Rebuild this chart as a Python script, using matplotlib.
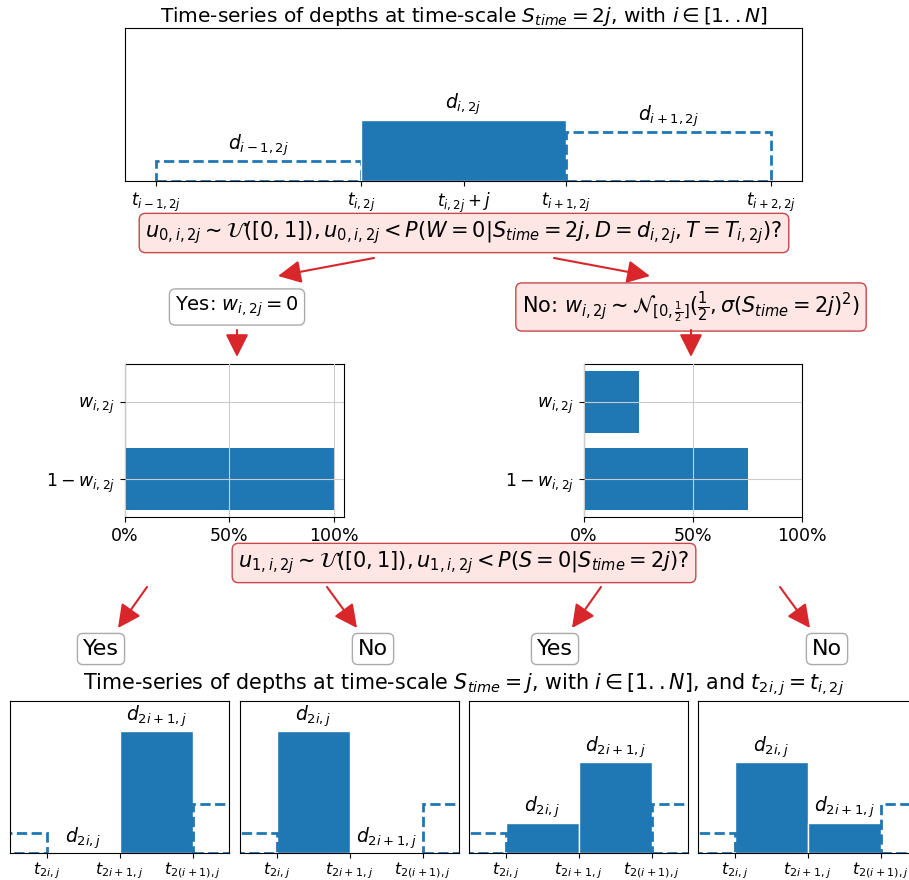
import numpy as np
import matplotlib
matplotlib.use("Agg")
import matplotlib.pyplot as plt
from matplotlib.ticker import PercentFormatter

W, H = 909, 880

# depths at time-scale 2j (previous, current, next), as fraction of axis height
d_top = [0.13, 0.40, 0.32]
t_top_edges = [0, 2, 4]
t_top_ticks = [0, 2, 3, 4, 6]
t_top_labels = [r'$t_{i-1,2j}$', r'$t_{i,2j}$', r'$t_{i,2j}+j$',
                r'$t_{i+1,2j}$', r'$t_{i+2,2j}$']
d_top_labels = [r'$d_{i-1,2j}$', r'$d_{i,2j}$', r'$d_{i+1,2j}$']

# weights for the two branches
w_cats = [r'$1-w_{i,2j}$', r'$w_{i,2j}$']
w_yes = [1.0, 0.0]
w_no = [0.75, 0.25]

# depths at time-scale j for the 4 outcomes
d_2i = [0.0, 0.8, 0.2, 0.6]
d_2i1 = [0.8, 0.0, 0.6, 0.2]
t_bot_ticks = [0, 1, 2]
t_bot_labels = [r'$t_{2i,j}$', r'$t_{2i+1,j}$', r'$t_{2(i+1),j}$']

red = '#d9262b'
pink_box = dict(boxstyle='round,pad=0.3', fc='#fde6e4', ec='#c8474a', lw=1)
white_box = dict(boxstyle='round,pad=0.3', fc='white', ec='#aaaaaa', lw=1)


def rect(x0, y0, x1, y1):
    # pixel box -> figure fraction
    return [x0 / W, 1 - y1 / H, (x1 - x0) / W, (y1 - y0) / H]


fig = plt.figure(figsize=(W / 100, H / 100), dpi=100)

## top time-series
ax = fig.add_axes(rect(125, 28, 802, 181))
ax.bar(t_top_edges[0], d_top[0], width=2, align='edge', fill=False,
       ls='--', ec='C0', lw=2)
ax.bar(t_top_edges[1], d_top[1], width=2, align='edge', color='C0', ec='white', lw=1)
ax.bar(t_top_edges[2], d_top[2], width=2, align='edge', fill=False,
       ls='--', ec='C0', lw=2)
for x0, h, lab in zip(t_top_edges, d_top, d_top_labels):
    ax.text(x0 + 1, h + 0.02, lab, ha='center', va='bottom', fontsize=13.5)
ax.set_xlim(-0.3, 6.3)
ax.set_ylim(0, 1)
ax.set_yticks([])
ax.set_xticks(t_top_ticks)
ax.set_xticklabels(t_top_labels, fontsize=12)
ax.set_title(r'Time-series of depths at time-scale $S_{time}=2j$, with $i\in[1..N]$',
             fontsize=14.5, pad=4)

## weight bar charts
for (x0, x1), vals, xmax in [((125, 344), w_yes, 1.05), ((584, 802), w_no, 1.0)]:
    bx = fig.add_axes(rect(x0, 364, x1, 517))
    bx.barh([0, 1], vals, color='C0')
    bx.set_yticks([0, 1])
    bx.set_yticklabels(w_cats, fontsize=12.5)
    bx.set_xlim(0, xmax)
    bx.set_xticks([0, 0.5, 1])
    bx.xaxis.set_major_formatter(PercentFormatter(1.0, decimals=0))
    bx.tick_params(axis='x', labelsize=12.5)
    bx.grid(True, color='#cccccc')
    bx.set_axisbelow(False)

## bottom panels
for k, x0 in enumerate([10, 240, 469, 698]):
    px = fig.add_axes(rect(x0, 701, x0 + 219, 853))
    px.bar(0, d_2i[k], width=1, align='edge', color='C0', ec='white', lw=1)
    px.bar(1, d_2i1[k], width=1, align='edge', color='C0', ec='white', lw=1)
    px.bar(-2, d_top[0], width=2, align='edge', fill=False, ls='--', ec='C0', lw=2)
    px.bar(2, d_top[2], width=2, align='edge', fill=False, ls='--', ec='C0', lw=2)
    px.text(0.5, d_2i[k] + 0.015, r'$d_{2i,j}$', ha='center', va='bottom', fontsize=13.5)
    px.text(1.5, d_2i1[k] + 0.015, r'$d_{2i+1,j}$', ha='center', va='bottom', fontsize=13.5)
    px.set_xlim(-0.5, 2.5)
    px.set_ylim(0, 1)
    px.set_yticks([])
    px.set_xticks(t_bot_ticks)
    px.set_xticklabels(t_bot_labels, fontsize=11.5)
    px.tick_params(axis='x', pad=2)

## overlay for boxes and arrows (pixel coordinates)
ov = fig.add_axes([0, 0, 1, 1])
ov.set_xlim(0, W)
ov.set_ylim(H, 0)
ov.axis('off')
ov.patch.set_alpha(0)

ov.text(464, 233, r'$u_{0,i,2j}\sim\mathcal{U}([0,1]), u_{0,i,2j}<P(W=0|S_{time}=2j, D=d_{i,2j}, T=T_{i,2j})?$',
        ha='center', va='center', fontsize=15, bbox=pink_box)
ov.text(237, 307, r'Yes: $w_{i,2j}=0$', ha='center', va='center', fontsize=14, bbox=white_box)
ov.text(691, 307, r'No: $w_{i,2j}\sim\mathcal{N}_{[0,\frac{1}{2}]}(\frac{1}{2},\sigma(S_{time}=2j)^2)$',
        ha='center', va='center', fontsize=15, bbox=pink_box)
ov.text(464, 563, r'$u_{1,i,2j}\sim\mathcal{U}([0,1]), u_{1,i,2j}<P(S=0|S_{time}=2j)?$',
        ha='center', va='center', fontsize=15, bbox=pink_box)
for x, s in [(101, 'Yes'), (373, 'No'), (555, 'Yes'), (827, 'No')]:
    ov.text(x, 649, s, ha='center', va='center', fontsize=16,
            bbox=dict(white_box, boxstyle='round,pad=0.25'))
ov.text(464, 689, r'Time-series of depths at time-scale $S_{time}=j$, with $i\in[1..N]$, and $t_{2i,j}=t_{i,2j}$',
        ha='center', va='baseline', fontsize=14.9)

arrows = [((374, 258), (278, 276)), ((554, 258), (650, 276)),
          ((237, 330), (237, 357)), ((691, 330), (691, 357)),
          ((147, 587), (118, 628)), ((327, 587), (357, 628)),
          ((601, 587), (572, 628)), ((780, 587), (810, 628))]
for start, end in arrows:
    ov.annotate('', xy=end, xytext=start,
                arrowprops=dict(arrowstyle='-|>,head_length=0.7,head_width=0.35',
                                color=red, lw=1.5, mutation_scale=20,
                                shrinkA=0, shrinkB=0))

plt.savefig('out.png', dpi=100)
